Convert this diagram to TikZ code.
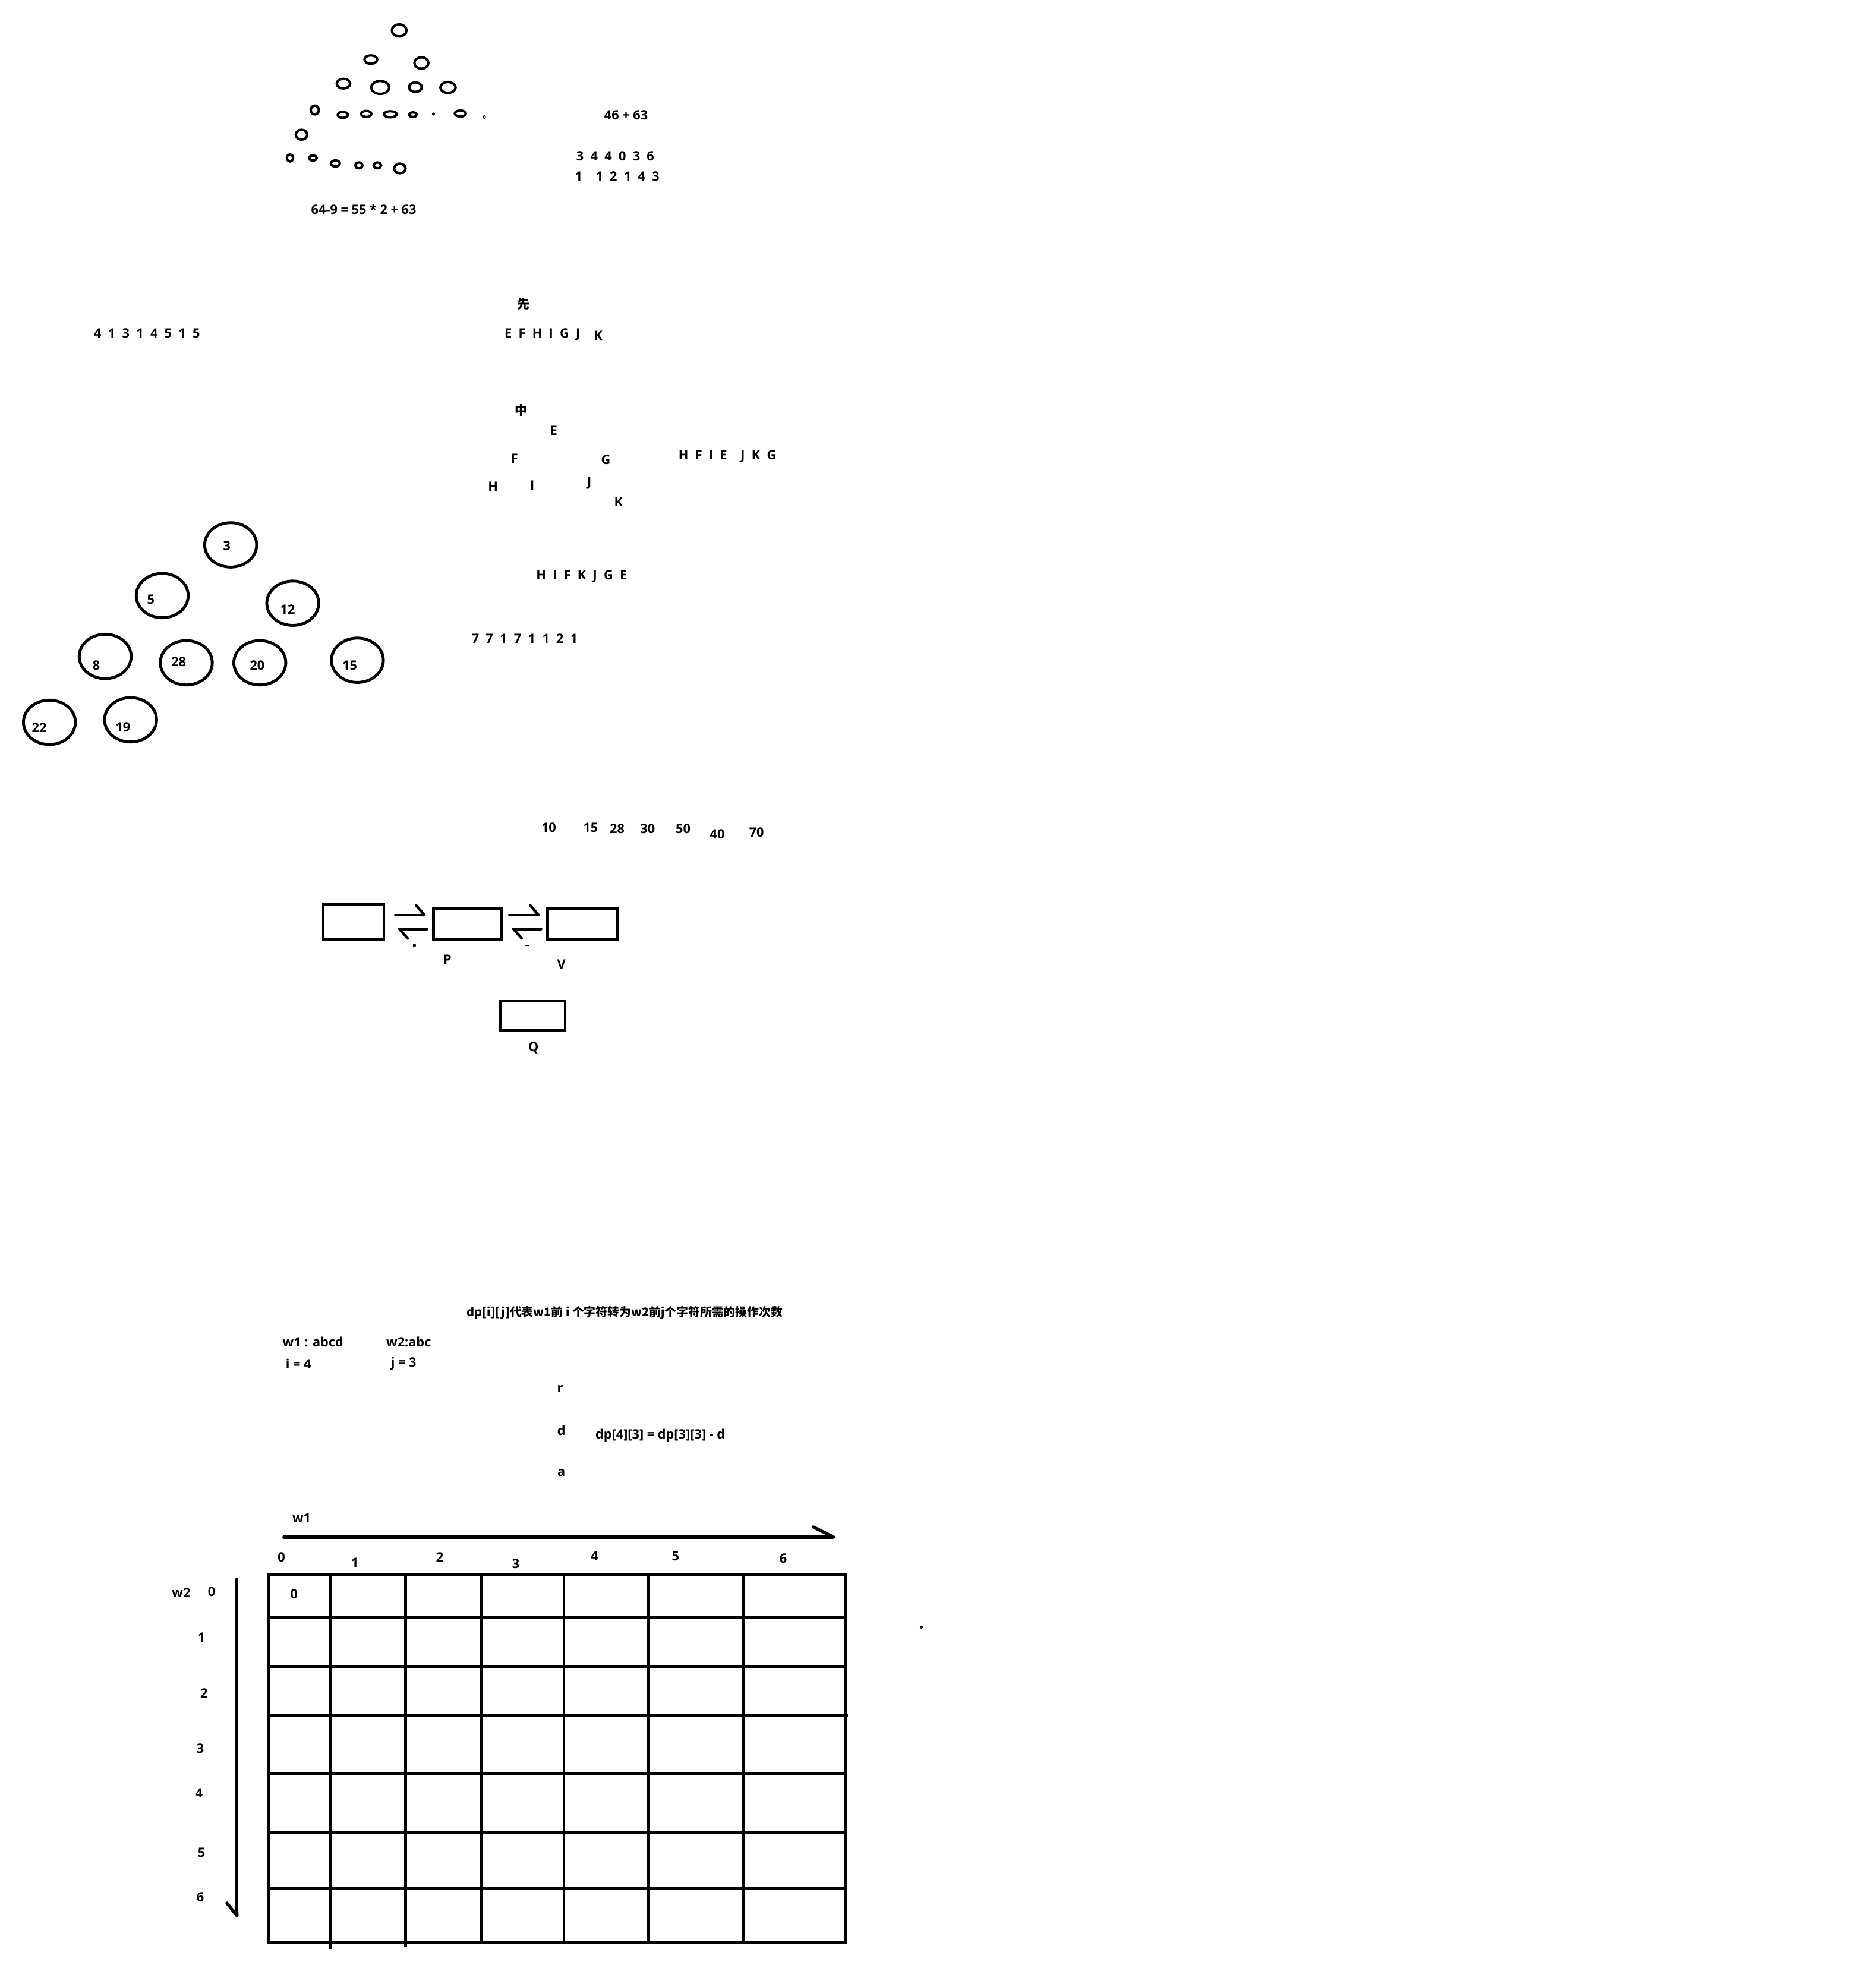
\documentclass[tikz,border=0pt]{standalone}
\usepackage{fontspec}
\setmainfont{Open Sans}
\newfontfamily\spaced{Open Sans}[WordSpace=2]
\newfontfamily\cjk{Noto Sans CJK SC}
\usetikzlibrary{arrows.meta}

\tikzset{
  every node/.style={font=\bfseries\fontsize{5.8}{7}\selectfont, inner sep=0pt},
  seq/.style={font=\spaced\bfseries\fontsize{5.8}{7}\selectfont},
  han/.style={font=\cjk\bfseries\fontsize{5.6}{7}\selectfont},
  bead/.style={line width=1.1pt},
  ring/.style={line width=1.3pt},
  box/.style={draw, line width=1.2pt},
  harp/.style={-{Straight Barb[harpoon, length=1.3mm, width=3mm, round]}, line width=1.2pt, line cap=round},
  axis/.style={line width=1.4pt, line cap=round},
  grid/.style={line width=1.3pt}
}

\begin{document}
\begin{tikzpicture}[x=0.2mm, y=-0.2mm]
		\useasboundingbox (0,0) rectangle (1480,1568);
		% beads
		\foreach \x/\y/\rx/\ry in {315/24/5.8/4.8, 292.6/47/5/3.3, 332.5/49.7/5.5/4.5,
			271/66/5.3/3.8, 300/69/7.1/5.1, 327.8/68.8/5/3.7, 353.5/69/6/4.3,
			248.4/86.8/3.2/3.5, 270.5/90.7/4/2.4, 289/89.9/4/2.4, 308/90.2/5/2.4,
			325.8/90.5/3/1.8, 363.2/89.6/4.3/2.4, 237.9/106.3/4.5/3.9,
			228.8/124.6/2.4/2.8, 246.9/124.7/3/2, 264.6/129/3.5/2.4,
			283.2/130.5/2.9/2.3, 297.8/130.5/2.9/2.3, 315.5/132.9/4.5/3.8} {
			\draw[bead] (\x,\y) ellipse ({\rx} and {\ry});
		}
		\fill (342,90) circle (1.2);
		\draw[line width=0.4pt] (382.2,92.4) ellipse (0.8 and 1.1);
		\node (sum) at (494,91) {46 + 63};
		\node[seq] (rowa) at (485.5,123) {3 4 4 0 3 6};
		\node[seq] (rowb) at (487,139) {1~~1 2 1 4 3};
		\node (eqn) at (287,165) {64-9 = 55 * 2 + 63};
		\node[seq] (nums) at (116,263) {4 1 3 1 4 5 1 5};
		% traversals
		\node[han] (pre) at (413,240) {先};
		\node[seq] (preord) at (428,264) {E F H I G J};
		\node (prek) at (472,265) {K};
		\node[han] (mid) at (411,324) {中};
		\foreach \t/\x/\y in {E/437/340, F/406/362, G/478/363, H/389/384, I/420/383, J/465/381, K/488/396} {
			\node (t\t) at (\x,\y) {\t};
		}
		\node[seq] (inord) at (574,360) {H F I E~~J K G};
		\node[seq] (postord) at (459,455) {H I F K J G E};
		\node[seq] (cnt) at (414,504) {7 7 1 7 1 1 2 1};
		% heap
		\foreach \n/\x/\y/\lx/\ly in {3/182/430/179/431, 5/128/470/119/473, 12/231/476/227/481,
			8/83/518/76/525, 28/147/523/141/522, 20/205/523/203/525, 15/282/521/276/525,
			22/39/570/31/574, 19/103/568/97/574} {
			\draw[ring] (\x,\y) ellipse (20.5 and 17.5);
			\node (k\n) at (\lx,\ly) {\n};
		}
		\foreach \v/\x/\y in {10/433/653, 15/466/653, 28/487/654, 30/511/654, 50/539/654, 40/566/658, 70/597/657} {
			\node (s\v) at (\x,\y) {\v};
		}
		% linked boxes
		\node[box, minimum width=9.6mm, minimum height=5.4mm] (b1) at (279,727.5) {};
		\node[box, minimum width=10.8mm, minimum height=4.8mm] (b2) at (369,729) {};
		\node[box, minimum width=11mm, minimum height=4.8mm] (b3) at (459.5,729) {};
		\node[box, minimum width=10.2mm, minimum height=4.6mm] (bq) at (420.5,801.5) {};
		\node (lp) at (353,757) {P};
		\node (lv) at (443,761) {V};
		\node (lq) at (421,827) {Q};
		\draw[harp, shorten <=1.6mm, shorten >=1mm] ([yshift=1.1mm]b1.east) -- ([yshift=1.1mm]b1.east -| b2.west);
		\draw[harp, shorten <=0.8mm, shorten >=2mm] ([yshift=-0.8mm]b2.west) -- ([yshift=-0.8mm]b2.west -| b1.east);
		\draw[harp, shorten <=1mm, shorten >=1mm] ([yshift=1.4mm]b2.east) -- ([yshift=1.4mm]b2.east -| b3.west);
		\draw[harp, shorten <=0.8mm, shorten >=1.4mm] ([yshift=-0.8mm]b3.west) -- ([yshift=-0.8mm]b3.west -| b2.east);
		\fill (327,746) circle (1.3);
		\draw[line width=0.4pt] (414.5,746) -- (417.5,746);
		% edit distance
		\node[han, font=\cjk\bfseries\fontsize{5.3}{7}\selectfont] (def) at (493,1036) {dp[i][j]代表w1前 i 个字符转为w2前j个字符所需的操作次数};
		\node (wa) at (247,1059) {w1 : abcd};
		\node (wb) at (322.5,1059) {w2:abc};
		\node (ii) at (235.5,1076) {i = 4};
		\node (jj) at (318.5,1076) {j = 3};
		\node (cr) at (442,1096) {r};
		\node (cd) at (443,1129) {d};
		\node (ca) at (443,1162) {a};
		\node (rec) at (521,1133) {dp[4][3] = dp[3][3] - d};
		\node (lw1) at (238,1198) {w1};
		\coordinate (xa) at (224,1213);
		\coordinate (xb) at (659,1213);
		\draw[axis, -{Straight Barb[harpoon, length=3.2mm, width=3.2mm, round]}] (xa) -- (xb);
		\foreach \c/\x/\y in {0/222/1229, 1/280/1233, 2/347/1229, 3/407/1234, 4/469/1228, 5/533/1228, 6/618/1230} {
			\node (c\c) at (\x,\y) {\c};
		}
		\node (lw2) at (143,1257) {w2};
		\coordinate (ya) at (187,1246);
		\coordinate (yb) at (187,1513);
		\draw[axis, -{Straight Barb[harpoon, swap, length=2mm, width=3.2mm, round]}] (ya) -- (yb);
		\foreach \r/\x/\y in {0/167/1256, 1/159/1292, 2/161/1336, 3/158/1380, 4/157/1415, 5/159/1462, 6/158/1497} {
			\node (r\r) at (\x,\y) {\r};
		}
		% table
		\draw[grid] (212,1243) rectangle (667,1533);
		\foreach \x/\e in {261/1538, 320/1536, 380/1533, 445/1533, 512/1533, 587/1533} {
			\draw[grid] (\x,1243) -- (\x,\e);
		}
		\foreach \y/\e in {1276/667, 1315/667, 1354/669, 1400/667, 1446/667, 1490/667} {
			\draw[grid] (212,\y) -- (\e,\y);
		}
		\node (z00) at (232,1258) {0};
		\fill (727,1284) circle (1.2);
	\end{tikzpicture}
\end{document}
